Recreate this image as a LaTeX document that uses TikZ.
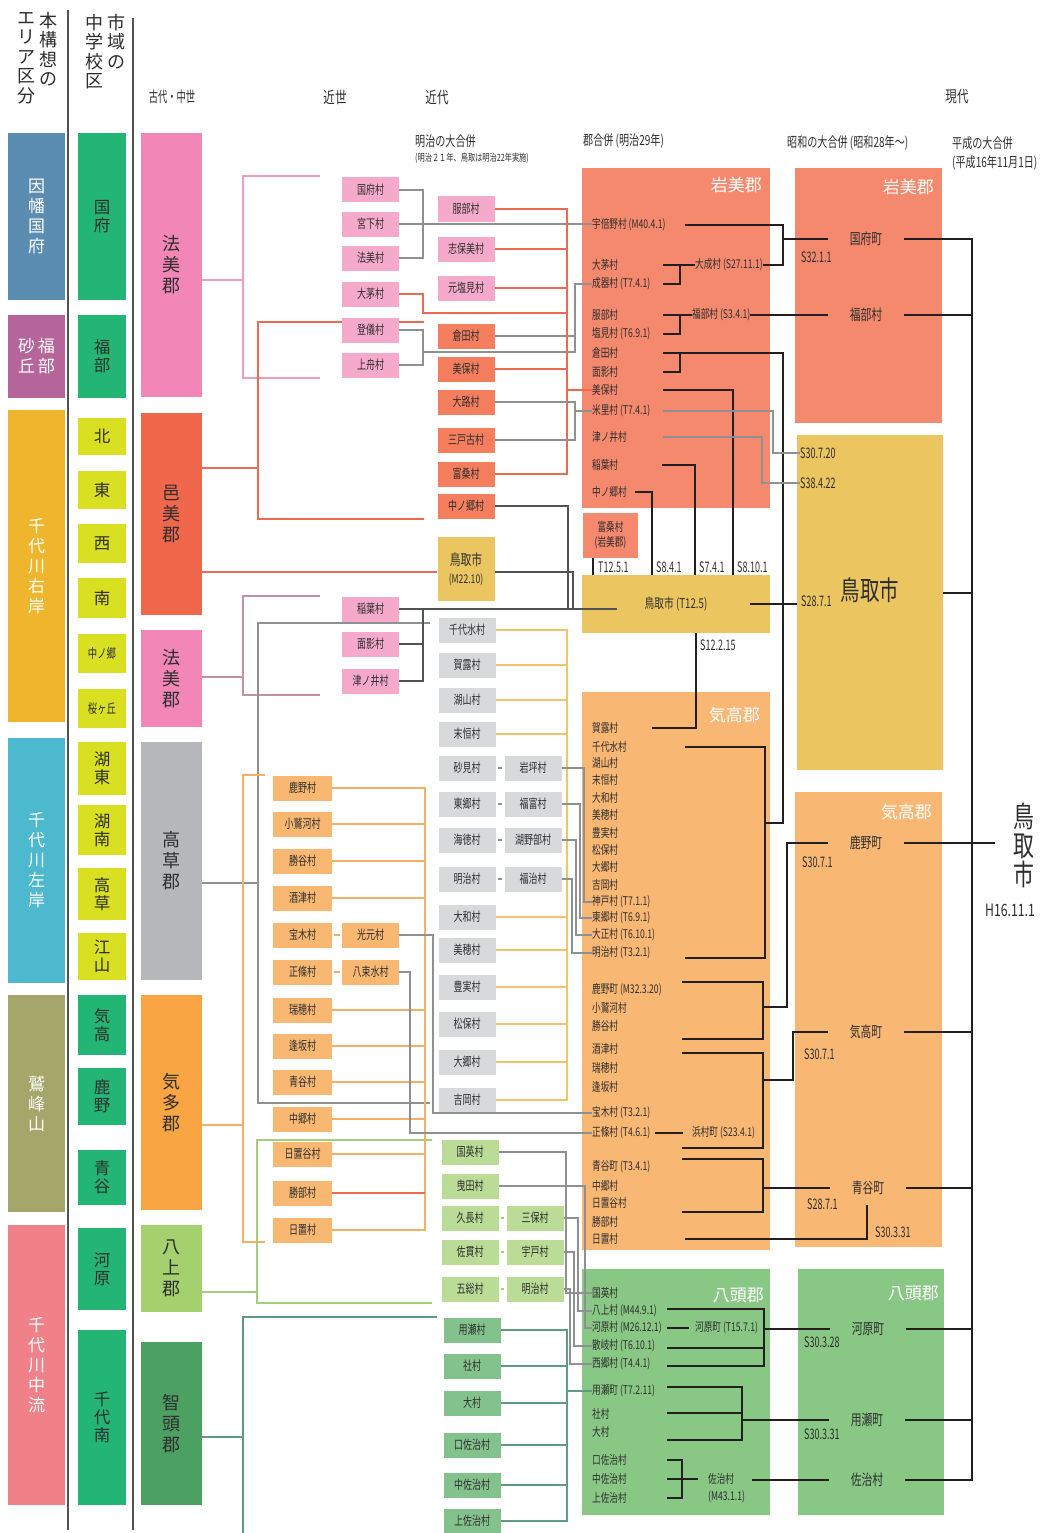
\documentclass[tikz,border=0pt]{standalone}
\usepackage{fontspec}
\setmainfont{Noto Sans CJK JP}
\newfontfamily\narrowjp[FakeStretch=0.72]{Noto Sans CJK JP}
\newfontfamily\condjp[FakeStretch=0.62]{Noto Sans CJK JP}
\usepackage{tikz}
\usetikzlibrary{positioning,calc}
\definecolor{AreaBlue}{HTML}{5B8DB2}
\definecolor{AreaMauve}{HTML}{B5659A}
\definecolor{AreaAmber}{HTML}{EFB52C}
\definecolor{AreaCyan}{HTML}{4CB9CF}
\definecolor{AreaOlive}{HTML}{A5A66A}
\definecolor{AreaSalmon}{HTML}{F08189}
\definecolor{SchGreen}{HTML}{22B574}
\definecolor{SchYellow}{HTML}{D9E021}
\definecolor{GunPink}{HTML}{F286B6}
\definecolor{GunRed}{HTML}{F0674B}
\definecolor{GunGray}{HTML}{B5B7BA}
\definecolor{GunOrange}{HTML}{F9A544}
\definecolor{GunLime}{HTML}{A4D06E}
\definecolor{GunGreen}{HTML}{4BA062}
\definecolor{VilPink}{HTML}{F5AACB}
\definecolor{VilRed}{HTML}{F47E5E}
\definecolor{VilGray}{HTML}{D8D9DB}
\definecolor{VilOrange}{HTML}{F9B872}
\definecolor{VilLime}{HTML}{BADC96}
\definecolor{VilGreen}{HTML}{84C28D}
\definecolor{CityGold}{HTML}{EBC55F}
\definecolor{PanRed}{HTML}{F5896D}
\definecolor{PanOrange}{HTML}{F9B774}
\definecolor{PanGreen}{HTML}{89C785}
\definecolor{LineBlack}{HTML}{231F20}
\definecolor{LinePink}{HTML}{F09BC0}
\definecolor{LineRed}{HTML}{EC6A52}
\definecolor{LineGray}{HTML}{8E9092}
\definecolor{LineDark}{HTML}{505254}
\definecolor{LineGold}{HTML}{F1C46C}
\definecolor{LineOrange}{HTML}{F5B064}
\definecolor{LineLime}{HTML}{A3CE7C}
\definecolor{LineTeal}{HTML}{5E9C80}
\definecolor{TextDark}{HTML}{2E2E2E}
\tikzset{
  headv/.style={align=center,inner sep=0pt,text=TextDark,font=\fontsize{18}{19.5}\selectfont},
  period/.style={inner sep=0pt,text=TextDark,font=\narrowjp\fontsize{16}{17}\selectfont},
  subhead/.style={anchor=west,inner sep=0pt,text=TextDark,font=\narrowjp\fontsize{14}{15}\selectfont},
  sepline/.style={line width=1.6pt,draw=LineDark},
  areabox/.style={fill=#1,text=white,minimum width=57pt,inner sep=0pt,align=center,font=\fontsize{17}{20}\selectfont},
  schoolbox/.style={fill=#1,text=TextDark,minimum width=48pt,inner sep=0pt,align=center,font=\fontsize{16.5}{18}\selectfont},
  gunbox/.style={fill=#1,text=TextDark,minimum width=61pt,inner sep=0pt,align=center,font=\fontsize{18}{21}\selectfont},
  vbox/.style={fill=#1,minimum width=57pt,minimum height=25pt,inner sep=0pt,text=TextDark,font=\narrowjp\fontsize{12.5}{13}\selectfont},
  panel/.style={fill=#1,inner sep=0pt},
  ptitle/.style={anchor=east,inner sep=0pt,text=white,font=\fontsize{17}{18}\selectfont},
  listtext/.style={anchor=west,inner sep=0pt,text=TextDark,font=\narrowjp\fontsize{12}{13}\selectfont},
  town/.style={inner xsep=22pt,inner ysep=0pt,text=TextDark,font=\narrowjp\fontsize{15}{16}\selectfont},
  datelbl/.style={anchor=west,inner sep=0pt,text=TextDark,font=\condjp\fontsize{14.5}{15}\selectfont},
  merge/.style={line width=2.6pt,draw=LineBlack},
  thinln/.style={line width=1.1pt,draw=#1}
}

\begin{document}
\begin{tikzpicture}[x=1pt,y=-1pt]
\useasboundingbox (0,0) rectangle (1054,1533);
\fill[white] (0,0) rectangle (1054,1533);

% column headings
\node[headv,anchor=north] (h-area2) at (26,12) {エ\\リ\\ア\\区\\分};
\node[headv,anchor=north] (h-area1) at (48,12) {本\\構\\想\\の};
\node[headv,anchor=north] (h-school2) at (94,14) {中\\学\\校\\区};
\node[headv,anchor=north] (h-school1) at (116,14) {市\\域\\の};
\draw[sepline] (68,10) -- (68,1530);
\draw[sepline] (133,18) -- (133,1530);
\node[period,font=\condjp\fontsize{15}{16}\selectfont] (t-kodai) at (172,97) {古代・中世};
\node[period] (t-kinsei) at (335,97) {近世};
\node[period] (t-kindai) at (437,97) {近代};
\node[period] (t-gendai) at (957,97) {現代};
\node[subhead] (sh-meiji) at (415,141) {明治の大合併};
\node[subhead,font=\narrowjp\fontsize{10}{11}\selectfont] (sh-meiji2) at (415,158) {(明治２１年、鳥取は明治22年実施)};
\node[subhead] (sh-gun) at (583,141) {郡合併 (明治29年)};
\node[subhead] (sh-showa) at (787,143) {昭和の大合併 (昭和28年〜)};
\node[subhead] (sh-heisei) at (952,143) {平成の大合併};
\node[subhead] (sh-heisei2) at (952,163) {(平成16年11月1日)};

% area / school district / ancient district columns
\node[areabox=AreaBlue,minimum height=167pt] (a-inaba) at (36.5,216.5) {因\\幡\\国\\府};
\node[areabox=AreaMauve,minimum height=83pt] (a-fukube) at (36.5,356.5) {砂\,福\\丘\,部};
\node[areabox=AreaAmber,minimum height=312pt] (a-migi) at (36.5,566) {千\\代\\川\\右\\岸};
\node[areabox=AreaCyan,minimum height=245pt] (a-hidari) at (36.5,860.5) {千\\代\\川\\左\\岸};
\node[areabox=AreaOlive,minimum height=217pt] (a-jubou) at (36.5,1103.5) {鷲\\峰\\山};
\node[areabox=AreaSalmon,minimum height=280pt] (a-churyu) at (36.5,1365) {千\\代\\川\\中\\流};

\node[schoolbox=SchGreen,minimum height=167pt] (s-kokufu) at (102,216.5) {国\\府};
\node[schoolbox=SchGreen,minimum height=83pt] (s-fukube) at (102,356.5) {福\\部};
\node[schoolbox=SchYellow,minimum height=37pt] (s-kita) at (102,436.5) {北};
\node[schoolbox=SchYellow,minimum height=38pt] (s-higashi) at (102,490) {東};
\node[schoolbox=SchYellow,minimum height=39pt] (s-nishi) at (102,543.5) {西};
\node[schoolbox=SchYellow,minimum height=40pt] (s-minami) at (102,598) {南};
\node[schoolbox=SchYellow,minimum height=39pt,font=\narrowjp\fontsize{13}{14}\selectfont] (s-nakanogo) at (102,653.5) {中ノ郷};
\node[schoolbox=SchYellow,minimum height=39pt,font=\narrowjp\fontsize{13}{14}\selectfont] (s-sakura) at (102,708.5) {桜ヶ丘};
\node[schoolbox=SchYellow,minimum height=53pt] (s-koto) at (102,768.5) {湖\\東};
\node[schoolbox=SchYellow,minimum height=50pt] (s-konan) at (102,830) {湖\\南};
\node[schoolbox=SchYellow,minimum height=52pt] (s-takakusa) at (102,894) {高\\草};
\node[schoolbox=SchYellow,minimum height=47pt] (s-koyama) at (102,956.5) {江\\山};
\node[schoolbox=SchGreen,minimum height=60pt] (s-ketaka) at (102,1025) {気\\高};
\node[schoolbox=SchGreen,minimum height=57pt] (s-shikano) at (102,1096.5) {鹿\\野};
\node[schoolbox=SchGreen,minimum height=55pt] (s-aoya) at (102,1177.5) {青\\谷};
\node[schoolbox=SchGreen,minimum height=82pt] (s-kawahara) at (102,1269) {河\\原};
\node[schoolbox=SchGreen,minimum height=175pt] (s-chizunan) at (102,1417.5) {千\\代\\南};

\node[gunbox=GunPink,minimum height=264pt] (g-houmi1) at (171.5,265) {法\\美\\郡};
\node[gunbox=GunRed,minimum height=202pt] (g-oumi) at (171.5,514) {邑\\美\\郡};
\node[gunbox=GunPink,minimum height=97pt] (g-houmi2) at (171.5,678.5) {法\\美\\郡};
\node[gunbox=GunGray,minimum height=238pt] (g-takakusa) at (171.5,861) {高\\草\\郡};
\node[gunbox=GunOrange,minimum height=215pt] (g-keta) at (171.5,1102.5) {気\\多\\郡};
\node[gunbox=GunLime,minimum height=87pt] (g-hakkami) at (171.5,1268.5) {八\\上\\郡};
\node[gunbox=GunGreen,minimum height=163pt] (g-chizu) at (171.5,1423.5) {智\\頭\\郡};

% brackets out of the ancient districts
\draw[thinln=LinePink] (g-houmi1.east |- 0,280) -- (243,280);
\draw[thinln=LinePink] (320,176) -- (243,176) -- (243,378) -- (320,378);
\draw[thinln=LineRed] (g-oumi.east |- 0,468) -- (258,468);
\draw[thinln=LineRed] (424,322) -- (258,322) -- (258,519) -- (424,519);
\draw[thinln=LinePink!60!gray] (g-houmi2.east |- 0,677) -- (243,677);
\draw[thinln=LinePink!60!gray] (320,596) -- (243,596) -- (243,695) -- (320,695);
\draw[thinln=LineGray] (g-takakusa.east |- 0,883) -- (258,883);
\draw[thinln=LineGray] (430,623) -- (258,623) -- (258,1103) -- (430,1103);
\draw[thinln=LineOrange] (g-keta.east |- 0,1125) -- (243,1125);
\draw[thinln=LineOrange] (265,775) -- (243,775) -- (243,1242) -- (265,1242);
\draw[thinln=LineLime] (g-hakkami.east |- 0,1292) -- (257,1292);
\draw[thinln=LineLime] (432,1140) -- (257,1140) -- (257,1303) -- (432,1303);
\draw[thinln=LineTeal] (g-chizu.east |- 0,1437) -- (243,1437);
\draw[thinln=LineTeal] (437,1317) -- (243,1317) -- (243,1533);

% early modern villages
\node[vbox=VilPink] (e-kokufu) at (370.5,190) {国府村};
\node[vbox=VilPink] (e-miyashita) at (370.5,224) {宮下村};
\node[vbox=VilPink] (e-houmi) at (370.5,258) {法美村};
\node[vbox=VilPink] (e-ochi) at (370.5,294) {大茅村};
\node[vbox=VilPink] (e-togi) at (370.5,330) {登儀村};
\node[vbox=VilPink] (e-kamifune) at (370.5,365) {上舟村};
\node[vbox=VilPink] (e-inaba) at (370.5,609) {稲葉村};
\node[vbox=VilPink] (e-omokage) at (370.5,644) {面影村};
\node[vbox=VilPink] (e-tsunoi) at (370.5,681) {津ノ井村};

\node[vbox=VilOrange,minimum width=59pt] (k-shikano) at (302.5,788) {鹿野村};
\node[vbox=VilOrange,minimum width=59pt] (k-kowashi) at (302.5,824) {小鷲河村};
\node[vbox=VilOrange,minimum width=59pt] (k-katsuya) at (302.5,861) {勝谷村};
\node[vbox=VilOrange,minimum width=59pt] (k-sakitsu) at (302.5,898) {酒津村};
\node[vbox=VilOrange,minimum width=59pt] (k-hougi) at (302.5,935) {宝木村};
\node[vbox=VilOrange,minimum width=59pt] (k-joujou) at (302.5,972) {正條村};
\node[vbox=VilOrange,minimum width=59pt] (k-mizuho) at (302.5,1010) {瑞穂村};
\node[vbox=VilOrange,minimum width=59pt] (k-ousaka) at (302.5,1046) {逢坂村};
\node[vbox=VilOrange,minimum width=59pt] (k-aoya) at (302.5,1082) {青谷村};
\node[vbox=VilOrange,minimum width=59pt] (k-nakago) at (302.5,1119) {中郷村};
\node[vbox=VilOrange,minimum width=59pt] (k-hiokidani) at (302.5,1154) {日置谷村};
\node[vbox=VilOrange,minimum width=59pt] (k-katsube) at (302.5,1193) {勝部村};
\node[vbox=VilOrange,minimum width=59pt] (k-hioki) at (302.5,1230) {日置村};
\node[vbox=VilOrange] (k-mitsumoto) at (370.5,935) {光元村};
\node[vbox=VilOrange] (k-yatsukami) at (370.5,972) {八束水村};

% Meiji villages
\node[vbox=VilPink] (m-hattori) at (466,209) {服部村};
\node[vbox=VilPink] (m-shihomi) at (466,249) {志保美村};
\node[vbox=VilPink] (m-motoshiomi) at (466,288) {元塩見村};
\node[vbox=VilRed] (m-kurata) at (466,336) {倉田村};
\node[vbox=VilRed] (m-miho) at (466,369) {美保村};
\node[vbox=VilRed] (m-oro) at (466,402) {大路村};
\node[vbox=VilRed] (m-mitoko) at (466,440) {三戸古村};
\node[vbox=VilRed] (m-tomikuwa) at (466,474) {富桑村};
\node[vbox=VilRed] (m-nakanogo) at (466,506) {中ノ郷村};
\node[vbox=CityGold,minimum height=64pt,align=center,font=\narrowjp\fontsize{15}{18}\selectfont] (m-tottori) at (466,569) {鳥取市\\{\fontsize{12}{13}\selectfont(M22.10)}};

\node[vbox=VilGray] (t-chiyomi) at (467,630) {千代水村};
\node[vbox=VilGray] (t-karo) at (467,665) {賀露村};
\node[vbox=VilGray] (t-koyama) at (467,700) {湖山村};
\node[vbox=VilGray] (t-suetsune) at (467,734) {末恒村};
\node[vbox=VilGray] (t-sunami) at (467,768) {砂見村};
\node[vbox=VilGray] (t-togo) at (467,804) {東郷村};
\node[vbox=VilGray] (t-kaitoku) at (467,840) {海徳村};
\node[vbox=VilGray] (t-meiji) at (467,879) {明治村};
\node[vbox=VilGray] (t-yamato) at (467,917) {大和村};
\node[vbox=VilGray] (t-miho) at (467,950) {美穂村};
\node[vbox=VilGray] (t-toyomi) at (467,987) {豊実村};
\node[vbox=VilGray] (t-matsuho) at (467,1024) {松保村};
\node[vbox=VilGray] (t-ogo) at (467,1062) {大郷村};
\node[vbox=VilGray] (t-yoshioka) at (467,1100) {吉岡村};
\node[vbox=VilGray] (t-iwatsubo) at (533,768) {岩坪村};
\node[vbox=VilGray] (t-fukutomi) at (533,804) {福富村};
\node[vbox=VilGray] (t-minobe) at (533,840) {湖野部村};
\node[vbox=VilGray] (t-fukuji) at (533,879) {福治村};

\node[vbox=VilLime] (y-kokuei) at (470,1152) {国英村};
\node[vbox=VilLime] (y-hikita) at (470,1186) {曳田村};
\node[vbox=VilLime] (y-hisanaga) at (470,1218) {久長村};
\node[vbox=VilLime] (y-sanuki) at (470,1252) {佐貫村};
\node[vbox=VilLime] (y-goso) at (470,1289) {五総村};
\node[vbox=VilLime] (y-miho) at (535,1218) {三保村};
\node[vbox=VilLime] (y-udo) at (535,1252) {宇戸村};
\node[vbox=VilLime] (y-meiji) at (535,1289) {明治村};

\node[vbox=VilGreen] (c-mochigase) at (472,1330) {用瀬村};
\node[vbox=VilGreen] (c-yashiro) at (472,1366) {社村};
\node[vbox=VilGreen] (c-omura) at (472,1403) {大村};
\node[vbox=VilGreen] (c-kuchisaji) at (472,1445) {口佐治村};
\node[vbox=VilGreen] (c-nakasaji) at (472,1485) {中佐治村};
\node[vbox=VilGreen,minimum height=24pt] (c-kamisaji) at (472,1521) {上佐治村};

% district panels
\node[panel=PanRed,minimum width=188pt,minimum height=340pt] (p-iwami1) at (676,338) {};
\node[panel=PanRed,minimum width=147pt,minimum height=255pt] (p-iwami2) at (868.5,295.5) {};
\node[panel=CityGold,minimum width=146pt,minimum height=335pt] (p-tottori2) at (870,602.5) {};
\node[panel=CityGold,minimum width=188pt,minimum height=58pt,text=TextDark,font=\narrowjp\fontsize{13.5}{14}\selectfont] (p-tottori1) at (676,604) {鳥取市 (T12.5)};
\node[panel=PanRed,minimum width=55pt,minimum height=45pt,align=center,text=TextDark,font=\narrowjp\fontsize{12}{15}\selectfont] (p-tomikuwa) at (610.5,535.5) {富桑村\\(岩美郡)};
\node[panel=PanOrange,minimum width=188pt,minimum height=558pt] (p-ketaka1) at (676,971) {};
\node[panel=PanOrange,minimum width=147pt,minimum height=455pt] (p-ketaka2) at (868.5,1019.5) {};
\node[panel=PanGreen,minimum width=188pt,minimum height=246pt] (p-yazu1) at (676,1392) {};
\node[panel=PanGreen,minimum width=146pt,minimum height=246pt] (p-yazu2) at (871,1392) {};
\node[ptitle] (pt-iwami1) at (762,185) {岩美郡};
\node[ptitle] (pt-iwami2) at (934,187) {岩美郡};
\node[ptitle] (pt-ketaka1) at (760,715) {気高郡};
\node[ptitle] (pt-ketaka2) at (932,812) {気高郡};
\node[ptitle] (pt-yazu1) at (764,1295) {八頭郡};
\node[ptitle] (pt-yazu2) at (939,1293) {八頭郡};
\node[text=TextDark,inner sep=0pt,font=\narrowjp\fontsize{27}{28}\selectfont] (pt-tottori2) at (870,590) {鳥取市};

% lists in the panels
\node[listtext] (l-ubeno) at (592,225) {宇倍野村 (M40.4.1)};
\node[listtext] (l-ochi) at (592,265) {大茅村};
\node[listtext] (l-seiki) at (592,284) {成器村 (T7.4.1)};
\node[listtext] (l-taisei) at (695,265) {大成村 (S27.11.1)};
\node[listtext] (l-hattori) at (592,315) {服部村};
\node[listtext] (l-shiomi) at (592,334) {塩見村 (T6.9.1)};
\node[listtext] (l-fukube) at (692,315) {福部村 (S3.4.1)};
\node[listtext] (l-kurata) at (592,353) {倉田村};
\node[listtext] (l-omokage) at (592,372) {面影村};
\node[listtext] (l-miho) at (592,390) {美保村};
\node[listtext] (l-yonesato) at (592,411) {米里村 (T7.4.1)};
\node[listtext] (l-tsunoi) at (592,437) {津ノ井村};
\node[listtext] (l-inaba) at (592,465) {稲葉村};
\node[listtext] (l-nakanogo) at (592,492) {中ノ郷村};

\node[listtext] (l-karo) at (592,728) {賀露村};
\node[listtext] (l-chiyomi) at (592,747) {千代水村};
\node[listtext] (l-koyama) at (592,763) {湖山村};
\node[listtext] (l-suetsune) at (592,780) {末恒村};
\node[listtext] (l-yamato) at (592,798) {大和村};
\node[listtext] (l-mihomura) at (592,815) {美穂村};
\node[listtext] (l-toyomi) at (592,833) {豊実村};
\node[listtext] (l-matsuho) at (592,850) {松保村};
\node[listtext] (l-ogo) at (592,867) {大郷村};
\node[listtext] (l-yoshioka) at (592,885) {吉岡村};
\node[listtext] (l-kanbe) at (592,902) {神戸村 (T7.1.1)};
\node[listtext] (l-togo) at (592,918) {東郷村 (T6.9.1)};
\node[listtext] (l-taisho) at (592,935) {大正村 (T6.10.1)};
\node[listtext] (l-meiji) at (592,953) {明治村 (T3.2.1)};
\node[listtext] (l-shikano) at (592,990) {鹿野町 (M32.3.20)};
\node[listtext] (l-kowashi) at (592,1008) {小鷲河村};
\node[listtext] (l-katsuya) at (592,1026) {勝谷村};
\node[listtext] (l-sakitsu) at (592,1049) {酒津村};
\node[listtext] (l-mizuho) at (592,1068) {瑞穂村};
\node[listtext] (l-ousaka) at (592,1087) {逢坂村};
\node[listtext] (l-hougi) at (592,1113) {宝木村 (T3.2.1)};
\node[listtext] (l-joujou) at (592,1133) {正條村 (T4.6.1)};
\node[listtext] (l-hamamura) at (692,1133) {浜村町 (S23.4.1)};
\node[listtext] (l-aoya) at (592,1167) {青谷町 (T3.4.1)};
\node[listtext] (l-nakago) at (592,1186) {中郷村};
\node[listtext] (l-hiokidani) at (592,1203) {日置谷村};
\node[listtext] (l-katsube) at (592,1222) {勝部村};
\node[listtext] (l-hioki) at (592,1239) {日置村};

\node[listtext] (l-kokuei) at (592,1293) {国英村};
\node[listtext] (l-hatsukami) at (592,1311) {八上村 (M44.9.1)};
\node[listtext] (l-kawahara) at (592,1328) {河原村 (M26.12.1)};
\node[listtext] (l-kawaharacho) at (695,1328) {河原町 (T15.7.1)};
\node[listtext] (l-sanki) at (592,1346) {散岐村 (T6.10.1)};
\node[listtext] (l-saigo) at (592,1364) {西郷村 (T4.4.1)};
\node[listtext] (l-mochigase) at (592,1391) {用瀬町 (T7.2.11)};
\node[listtext] (l-yashiro) at (592,1414) {社村};
\node[listtext] (l-omura) at (592,1432) {大村};
\node[listtext] (l-kuchisaji) at (592,1460) {口佐治村};
\node[listtext] (l-nakasaji) at (592,1479) {中佐治村};
\node[listtext] (l-kamisaji) at (592,1498) {上佐治村};
\node[listtext] (l-saji) at (708,1479) {佐治村};
\node[listtext] (l-sajidate) at (708,1497) {(M43.1.1)};

% Showa towns
\node[town] (p2-kokufu) at (866,239) {国府町};
\node[town] (p2-fukube) at (866,315) {福部村};
\node[town] (p2-shikano) at (866,843) {鹿野町};
\node[town] (p2-ketaka) at (866,1032) {気高町};
\node[town] (p2-aoya) at (868,1188) {青谷町};
\node[town] (p2-kawahara) at (868,1329) {河原町};
\node[town] (p2-mochigase) at (867,1420) {用瀬町};
\node[town] (p2-saji) at (867,1480) {佐治村};
\node[inner xsep=18pt,inner ysep=0pt,align=center,text=TextDark,font=\narrowjp\fontsize{29}{29}\selectfont] (f-tottori) at (1024,845) {鳥\\取\\市};
\node[inner sep=0pt,text=TextDark,font=\narrowjp\fontsize{17}{18}\selectfont] (f-date) at (1010,910) {H16.11.1};

% dates
\node[datelbl] (d-s3211) at (801,257) {S32.1.1};
\node[datelbl] (d-t1251) at (598,567) {T12.5.1};
\node[datelbl] (d-s841) at (656,567) {S8.4.1};
\node[datelbl] (d-s741) at (699,567) {S7.4.1};
\node[datelbl] (d-s8101) at (737,567) {S8.10.1};
\node[datelbl] (d-s30720) at (800,453) {S30.7.20};
\node[datelbl] (d-s38422) at (800,483) {S38.4.22};
\node[datelbl] (d-s2871a) at (801,601) {S28.7.1};
\node[datelbl] (d-s12215) at (700,645) {S12.2.15};
\node[datelbl] (d-s3071a) at (802,862) {S30.7.1};
\node[datelbl] (d-s3071b) at (804,1054) {S30.7.1};
\node[datelbl] (d-s2871b) at (807,1204) {S28.7.1};
\node[datelbl] (d-s30331a) at (875,1232) {S30.3.31};
\node[datelbl] (d-s30328) at (804,1342) {S30.3.28};
\node[datelbl] (d-s30331b) at (804,1434) {S30.3.31};

% thin links between villages
\draw[thinln=LineGray] (e-kokufu.east) -- (423,190) -- (423,258) -- (e-houmi.east);
\draw[thinln=LineGray] (e-miyashita.east) -- (l-ubeno.west |- e-miyashita);
\draw[thinln=LineRed] (e-ochi.east) -- (423,294) -- (423,313) -- (567,313);
\draw[thinln=LineGray] (e-togi.east) -- (423,330) -- (423,365) -- (e-kamifune.east);
\draw[thinln=LineGray] (423,352) -- (575,352) -- (575,284) -- (l-seiki.west);
\draw[thinln=LineGray] (m-kurata.east) -- (575,336);
\draw[thinln=LineRed] (m-hattori.east) -- (567,209) -- (567,474) -- (m-tomikuwa.east);
\draw[thinln=LineRed] (m-shihomi.east) -- (567,249);
\draw[thinln=LineRed] (m-motoshiomi.east) -- (567,288);
\draw[thinln=LineRed] (m-miho.east) -- (567,369);
\draw[thinln=LineRed] (567,390) -- (l-miho.west);
\draw[thinln=LineGray] (m-oro.east) -- (575,402) -- (575,440) -- (m-mitoko.east);
\draw[thinln=LineGray] (575,411) -- (l-yonesato.west);
\draw[thinln=LineDark] (m-nakanogo.east) -- (568,506) -- (568,609);
\draw[thinln=LineDark] (m-tottori.east |- 0,572) -- (573,572) -- (573,609);
\draw[thinln=LineRed] (g-oumi.east |- 0,572) -- (m-tottori.west |- 0,572);
\draw[thinln=LineDark] (e-inaba.east) -- ([xshift=35pt]p-tottori1.west |- e-inaba);
\draw[thinln=LineDark] (e-omokage.east) -- (423,644);
\draw[thinln=LineDark] (e-tsunoi.east) -- (423,681) -- (423,609);

\draw[thinln=LineGold] (t-chiyomi.east) -- (567,630) -- (567,1100) -- (t-yoshioka.east);
\draw[thinln=LineGold] (t-karo.east) -- (567,665);
\draw[thinln=LineGold] (t-koyama.east) -- (567,700);
\draw[thinln=LineGold] (t-suetsune.east) -- (567,734);
\draw[thinln=LineGold] (t-yamato.east) -- (567,917);
\draw[thinln=LineGold] (t-miho.east) -- (567,950);
\draw[thinln=LineGold] (t-toyomi.east) -- (567,987);
\draw[thinln=LineGold] (t-matsuho.east) -- (567,1024);
\draw[thinln=LineGold] (t-ogo.east) -- (567,1062);
\draw[thinln=LineGray,shorten <=2pt,shorten >=2pt] (t-sunami.east) -- (t-iwatsubo.west);
\draw[thinln=LineGray,shorten <=2pt,shorten >=2pt] (t-togo.east) -- (t-fukutomi.west);
\draw[thinln=LineGray,shorten <=2pt,shorten >=2pt] (t-kaitoku.east) -- (t-minobe.west);
\draw[thinln=LineGray,shorten <=2pt,shorten >=2pt] (t-meiji.east) -- (t-fukuji.west);
\draw[thinln=LineGray] (t-iwatsubo.east) -| (l-kanbe.west -| 584,0) -- (l-kanbe.west);
\draw[thinln=LineGray] (t-fukutomi.east) -| (l-togo.west -| 580,0) -- (l-togo.west);
\draw[thinln=LineGray] (t-minobe.east) -| (l-taisho.west -| 576,0) -- (l-taisho.west);
\draw[thinln=LineGray] (t-fukuji.east) -| (l-meiji.west -| 572,0) -- (l-meiji.west);

\draw[thinln=LineOrange] (k-shikano.east) -- (425,788) -- (425,1230) -- (k-hioki.east);
\draw[thinln=LineOrange] (k-kowashi.east) -- (425,824);
\draw[thinln=LineOrange] (k-katsuya.east) -- (425,861);
\draw[thinln=LineOrange] (k-sakitsu.east) -- (425,898);
\draw[thinln=LineOrange] (k-mizuho.east) -- (425,1010);
\draw[thinln=LineOrange] (k-ousaka.east) -- (425,1046);
\draw[thinln=LineOrange] (k-aoya.east) -- (425,1082);
\draw[thinln=LineOrange] (k-nakago.east) -- (425,1119);
\draw[thinln=LineOrange] (k-hiokidani.east) -- (425,1154);
\draw[thinln=LineRed] (k-katsube.east) -- (425,1193);
\draw[thinln=LineOrange,shorten <=2pt,shorten >=2pt] (k-hougi.east) -- (k-mitsumoto.west);
\draw[thinln=LineOrange,shorten <=2pt,shorten >=2pt] (k-joujou.east) -- (k-yatsukami.west);
\draw[thinln=LineGray] (k-mitsumoto.east) -| (l-hougi.west -| 433,0) -- (l-hougi.west);
\draw[thinln=LineGray] (k-yatsukami.east) -| (l-joujou.west -| 410,0) -- (l-joujou.west);

\draw[thinln=LineLime,shorten <=2pt,shorten >=2pt] (y-hisanaga.east) -- (y-miho.west);
\draw[thinln=LineLime,shorten <=2pt,shorten >=2pt] (y-sanuki.east) -- (y-udo.west);
\draw[thinln=LineLime,shorten <=2pt,shorten >=2pt] (y-goso.east) -- (y-meiji.west);
\draw[thinln=LineGray] (y-kokuei.east) -| (l-kokuei.west -| 566,0) -- (l-kokuei.west);
\draw[thinln=LineGray] (y-hikita.east) -| (l-kawahara.west -| 585,0) -- (l-kawahara.west);
\draw[thinln=LineGray] (y-miho.east) -| (l-hatsukami.west -| 578,0) -- (l-hatsukami.west);
\draw[thinln=LineGray] (y-udo.east) -| (l-sanki.west -| 574,0) -- (l-sanki.west);
\draw[thinln=LineGray] (y-meiji.east) -| (l-saigo.west -| 570,0) -- (l-saigo.west);

\draw[thinln=LineTeal] (c-mochigase.east) -- (567,1330) -- (567,1521) -- (c-kamisaji.east);
\draw[thinln=LineTeal] (c-yashiro.east) -- (567,1366);
\draw[thinln=LineTeal] (c-omura.east) -- (567,1403);
\draw[thinln=LineTeal] (c-kuchisaji.east) -- (567,1445);
\draw[thinln=LineTeal] (c-nakasaji.east) -- (567,1485);
\draw[thinln=LineTeal] (567,1391) -- (l-mochigase.west);

% mergers inside Iwami
\draw[merge] (l-ubeno -| 685,0) -| (783,265) -- (l-taisei.east);
\draw[merge] (783,239) -- (p2-kokufu.west);
\draw[merge] (l-ochi -| 663,0) -- (l-taisei.west);
\draw[merge] (l-seiki -| 663,0) -| (680,265);
\draw[merge] (l-hattori -| 663,0) -- (l-fukube.west);
\draw[merge] (l-shiomi -| 663,0) -| (680,315);
\draw[merge] (l-fukube.east) -- (p2-fukube.west);
\draw[merge] (l-omokage -| 663,0) -| (680,353);
\draw[merge] (l-kurata -| 663,0) -| (783,823) -- (765,823);
\draw[merge] (l-miho -| 663,0) -| (p-tottori1.north -| 733,0);
\draw[merge] (l-inaba -| 662,0) -| (p-tottori1.north -| 695,0);
\draw[merge] (l-nakanogo -| 635,0) -| (p-tottori1.north -| 652,0);
\draw[merge] (p-tomikuwa.south -| 593,0) -- (p-tottori1.north -| 593,0);
\draw[merge] ([xshift=-20pt]p-tottori1.east) -- (p-tottori2.west |- p-tottori1);
\draw[merge] (p-tottori1.south -| 696,0) |- (l-karo -| 652,0);
\draw[thinln=LineGray,line width=1.5pt] (l-yonesato -| 663,0) -| (d-s30720.west -| 773,0) -- (d-s30720.west);
\draw[thinln=LineGray,line width=1.5pt] (l-tsunoi -| 663,0) -| (d-s38422.west -| 762,0) -- (d-s38422.west);

% mergers inside Ketaka
\draw[merge] (l-chiyomi -| 685,0) -| (765,958) -- (685,958);
\draw[merge] (682,982) -| (763,1039) -- (682,1039);
\draw[merge] (763,1007) -| (787,843) -- (p2-shikano.west);
\draw[merge] (682,1053) -| (763,1148) -- (682,1148);
\draw[merge] (763,1080) -| (793,1032) -- (p2-ketaka.west);
\draw[merge,shorten <=5pt,shorten >=9pt] (l-joujou.east) -- (l-hamamura.west);
\draw[merge] (682,1159) -| (763,1212) -- (682,1212);
\draw[merge] (763,1188) -- (p2-aoya.west);
\draw[merge] (l-hioki -| 685,0) -| (867,1205);

% mergers inside Yazu
\draw[merge] (667,1309) -| (764,1366) -- (667,1366);
\draw[merge] (667,1348) -- (764,1348);
\draw[merge] (764,1329) -- (p2-kawahara.west);
\draw[merge,shorten <=5pt,shorten >=6pt] (l-kawahara.east) -- (l-kawaharacho.west);
\draw[merge] (667,1387) -| (742,1440) -- (667,1440);
\draw[merge] (667,1413) -- (742,1413);
\draw[merge] (742,1420) -- (p2-mochigase.west);
\draw[merge] (667,1460) -| (682,1498) -- (667,1498);
\draw[merge,shorten >=10pt] (667,1479) -- (l-saji.west);
\draw[merge] (752,1480) -- (p2-saji.west);

% Heisei merger into Tottori city
\draw[merge] (p2-kokufu.east) -| (972,1480) -- (p2-saji.east);
\draw[merge] (p2-fukube.east) -- (p2-fukube -| 972,0);
\draw[merge] (p-tottori2.east |- 0,593) -- (972,593);
\draw[merge] (p2-shikano.east) -- (f-tottori.west |- p2-shikano);
\draw[merge] (p2-ketaka.east) -- (p2-ketaka -| 972,0);
\draw[merge] (p2-aoya.east) -- (p2-aoya -| 972,0);
\draw[merge] (p2-kawahara.east) -- (p2-kawahara -| 972,0);
\draw[merge] (p2-mochigase.east) -- (p2-mochigase -| 972,0);
\end{tikzpicture}
\end{document}
